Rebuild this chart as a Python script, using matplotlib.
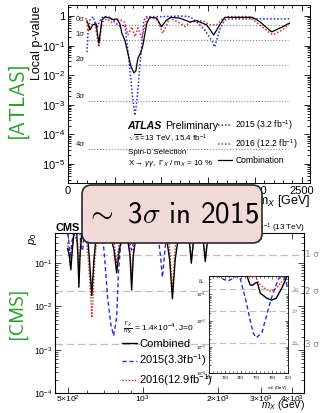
import numpy as np
import matplotlib
matplotlib.use("Agg")
import matplotlib.pyplot as plt
from matplotlib.patches import FancyBboxPatch
from matplotlib.ticker import FixedLocator, FixedFormatter, NullFormatter, LogLocator, MultipleLocator

plt.rcParams['font.family'] = ['Liberation Sans', 'DejaVu Sans']
plt.rcParams['mathtext.fontset'] = 'custom'
plt.rcParams['mathtext.rm'] = 'Liberation Sans'
plt.rcParams['mathtext.it'] = 'Liberation Sans:italic'
plt.rcParams['mathtext.bf'] = 'Liberation Sans:bold'

# ---------------- ATLAS data (local p-value vs m_X) ----------------
atlas_2015_m = [203, 214, 235, 267, 310, 342, 374, 450, 502, 555, 609, 641, 668, 690, 716, 735, 755, 790, 812, 844,
                1000, 1196, 1303, 1374, 1463, 1538, 1570, 1623, 1677, 1730, 2000, 2371]
atlas_2015_p = [0.06, 0.26, 0.73, 0.95, 0.4, 0.7, 0.95, 0.9, 0.6, 0.45, 0.5, 0.07, 0.01, 0.002, 0.00044, 0.0012, 0.006,
                0.12, 0.73, 0.95, 0.95, 1.0, 0.95, 0.65, 0.34, 0.15, 0.09, 0.34, 0.73, 0.8, 0.8, 0.8]

atlas_2016_m = [192, 214, 246, 288, 331, 363, 416, 470, 502, 555, 609, 641, 683, 716, 748, 790, 844, 908, 961, 1015,
                1089, 1196, 1250, 1303, 1388, 1463, 1517, 1591, 1655, 1709, 1940, 2050, 2190, 2296, 2371]
atlas_2016_p = [0.85, 0.3, 0.5, 0.55, 0.09, 0.6, 0.8, 0.6, 0.7, 0.75, 0.6, 0.23, 0.43, 0.2, 0.4, 0.18, 0.85, 0.9, 0.7,
                0.26, 0.85, 0.58, 0.44, 0.6, 0.7, 0.65, 0.5, 0.5, 0.8, 0.95, 0.95, 0.5, 0.23, 0.34, 0.58]

atlas_comb_m = [203, 235, 267, 300, 331, 363, 395, 449, 481, 523, 555, 577, 609, 641, 673, 705, 726, 748, 780, 801,
                844, 876, 950, 1000, 1050, 1100, 1196, 1303, 1374, 1484, 1560, 1623, 1677, 1976, 2050, 2180, 2296, 2371]
atlas_comb_p = [0.68, 0.34, 0.5, 0.55, 0.12, 0.73, 0.93, 0.85, 0.75, 0.8, 0.55, 0.26, 0.15, 0.055, 0.02, 0.012, 0.014,
                0.037, 0.06, 0.1, 0.58, 0.9, 0.85, 0.43, 0.7, 0.9, 0.85, 0.63, 0.7, 0.5, 0.23, 0.5, 0.9, 0.9, 0.65,
                0.29, 0.43, 0.58]

atlas_sigma_p = [0.5, 0.1587, 0.02275, 0.00135, 3.17e-5]
atlas_sigma_lbl = ["0σ", "1σ", "2σ", "3σ", "4σ"]
atlas_yticks = [1, 1e-1, 1e-2, 1e-3, 1e-4, 1e-5]
atlas_ytick_lbl = ["1", "$10^{-1}$", "$10^{-2}$", "$10^{-3}$", "$10^{-4}$", "$10^{-5}$"]
atlas_xticks = [0, 500, 1000, 1500, 2000, 2500]

# ---------------- CMS data (p0 vs m_X) ----------------
cms_comb_m = [500, 508, 515, 522, 530, 544, 550, 555, 561, 570, 600, 612, 625, 638, 652, 740, 768, 787, 806, 835,
              865, 890, 904, 918, 945, 1240, 1285, 1318, 1352, 1400, 1530, 1570, 1612, 1740, 1786, 1835, 4450]
cms_comb_p = [0.22, 0.15, 0.07, 0.2, 0.5, 0.5, 0.15, 0.028, 0.15, 0.5, 0.5, 0.12, 0.018, 0.12, 0.5, 0.5, 0.2, 0.06,
              0.2, 0.5, 0.5, 0.15, 0.024, 0.15, 0.5, 0.5, 0.12, 0.015, 0.12, 0.5, 0.5, 0.1, 0.5, 0.5, 0.11, 0.5, 0.5]

cms_2015_m = [500, 506, 512, 520, 528, 560, 568, 575, 582, 690, 705, 724, 745, 765, 787, 800, 824, 880, 895, 904,
              913, 925, 1150, 1180, 1202, 1224, 1250, 4450]
cms_2015_p = [0.5, 0.3, 0.13, 0.3, 0.5, 0.5, 0.2, 0.2, 0.5, 0.5, 0.12, 0.016, 0.004, 0.0021, 0.0055, 0.06, 0.5, 0.5,
              0.25, 0.2, 0.25, 0.5, 0.5, 0.15, 0.047, 0.15, 0.5, 0.5]

cms_2016_m = [500, 508, 515, 522, 530, 548, 555, 562, 575, 592, 609, 620, 625, 632, 642, 660, 760, 787, 815, 880,
              904, 930, 1270, 1318, 1365, 1530, 1570, 1612, 1740, 1786, 1835, 4450]
cms_2016_p = [0.3, 0.15, 0.08, 0.2, 0.5, 0.3, 0.06, 0.3, 0.5, 0.5, 0.08, 0.015, 0.0055, 0.015, 0.12, 0.5, 0.5, 0.1,
              0.5, 0.5, 0.05, 0.5, 0.5, 0.025, 0.5, 0.5, 0.12, 0.5, 0.5, 0.13, 0.5, 0.5]

# inset (zoom on 700-800 GeV)
ins_2015_m = [700, 711, 718, 724, 730, 735, 739, 746, 752, 756, 760, 767, 773, 779, 785, 790, 795, 800]
ins_2015_p = [0.5, 0.5, 0.38, 0.32, 0.4, 0.5, 0.45, 0.072, 0.0105, 0.0033, 0.0022, 0.0035, 0.016, 0.072, 0.23, 0.5,
              0.45, 0.17]
ins_comb_m = [700, 748, 752, 755, 758, 761, 765, 773, 779, 785, 792, 799, 800]
ins_comb_p = [0.5, 0.5, 0.23, 0.22, 0.26, 0.29, 0.11, 0.072, 0.06, 0.07, 0.17, 0.5, 0.5]
ins_2016_m = [700, 758, 765, 773, 779, 785, 792, 799, 800]
ins_2016_p = [0.5, 0.5, 0.23, 0.15, 0.13, 0.17, 0.3, 0.5, 0.5]

cms_sigma_p = [0.1587, 0.02275, 0.00135]
cms_sigma_lbl = ["1 σ", "2 σ", "3 σ"]
cms_yticks = [1e-1, 1e-2, 1e-3, 1e-4]
cms_ytick_lbl = ["$10^{-1}$", "$10^{-2}$", "$10^{-3}$", "$10^{-4}$"]
cms_xticks = [500, 1000, 2000, 3000, 4000]
cms_xtick_lbl = ["5×10$^{2}$", "$10^{3}$", "2×10$^{3}$", "3×10$^{3}$", "4×10$^{3}$"]
ins_xticks = [700, 720, 740, 760, 780, 800]

W, H = 320, 413


def fx(x):
    return x / W


def fy(y):
    return 1 - y / H


fig = plt.figure(figsize=(3.2, 4.13), dpi=100)

# ================= ATLAS panel =================
ax1 = fig.add_axes([fx(68), fy(183), fx(310) - fx(68), fy(5) - fy(183)])
ax1.set_yscale('log')
ax1.set_xlim(0, 2590)
ax1.set_ylim(2.3e-6, 2.35)
for p, lbl in zip(atlas_sigma_p, atlas_sigma_lbl):
    ax1.plot([214, 2350], [p, p], ls=(0, (1, 1.6)), color='#8a8a8a', lw=0.8)
    ax1.text(85, p * 1.12, lbl, fontsize=5.5, ha='left', va='bottom', color='#222')
ax1.plot(atlas_2015_m, atlas_2015_p, color='#2a2ae0', ls=(0, (1, 1.3)), lw=1.1, label="2015 (3.2 fb$^{-1}$)")
ax1.plot(atlas_2016_m, atlas_2016_p, color='#e02a2a', ls=(0, (1, 1.3)), lw=1.1, label="2016 (12.2 fb$^{-1}$)")
ax1.plot(atlas_comb_m, atlas_comb_p, color='black', lw=0.9, label="Combination")
ax1.yaxis.set_major_locator(FixedLocator(atlas_yticks))
ax1.yaxis.set_major_formatter(FixedFormatter(atlas_ytick_lbl))
ax1.yaxis.set_minor_locator(LogLocator(base=10, subs=np.arange(2, 10)))
ax1.yaxis.set_minor_formatter(NullFormatter())
ax1.xaxis.set_major_locator(FixedLocator(atlas_xticks))
ax1.xaxis.set_minor_locator(MultipleLocator(100))
ax1.tick_params(which='both', direction='in', top=True, right=True, labelsize=8, pad=2, width=0.6)
ax1.tick_params(which='major', length=4)
ax1.tick_params(which='minor', length=2)
for s in ax1.spines.values():
    s.set_linewidth(0.7)
leg1 = ax1.legend(loc='upper left', bbox_to_anchor=(0.62, 0.365), frameon=False, fontsize=6.2,
                  handlelength=1.6, handletextpad=0.4, labelspacing=0.62, borderaxespad=0, borderpad=0)

fig.text(fx(127), fy(126), "ATLAS", fontsize=7.6, fontweight='bold', fontstyle='italic', va='center')
fig.text(fx(165), fy(126), "Preliminary", fontsize=7.6, va='center')
fig.text(fx(128), fy(139), r"$\sqrt{s}$=13 TeV, 15.4 fb$^{-1}$", fontsize=5.8, va='center')
fig.text(fx(128), fy(153), "Spin-0 Selection", fontsize=5.8, va='center')
fig.text(fx(128), fy(164), r"X$\rightarrow\gamma\gamma$,  $\Gamma_X$ / m$_X$ = 10 %", fontsize=5.8, va='center')
fig.text(fx(37), fy(6), "Local p-value", rotation=90, fontsize=9, ha='center', va='top')
fig.text(fx(310), fy(201), "m$_X$ [GeV]", fontsize=9, ha='right', va='center')

# ================= CMS panel =================
ax2 = fig.add_axes([fx(55), fy(393), fx(304) - fx(55), fy(233) - fy(393)])
ax2.set_xscale('log')
ax2.set_yscale('log')
ax2.set_xlim(445, 4450)
ax2.set_ylim(1e-4, 0.5)
for p in cms_sigma_p:
    ax2.axhline(p, color='#c0c0c0', ls=(0, (6, 3)), lw=0.9, zorder=1)
for p, lbl in zip(cms_sigma_p, cms_sigma_lbl):
    ax2.text(1.004, p, lbl, transform=ax2.get_yaxis_transform(), fontsize=6.3, color='#8c8c8c',
             va='center', ha='left', family='DejaVu Sans')
ax2.plot(cms_comb_m, cms_comb_p, color='black', lw=1.0, label="Combined", zorder=4)
ax2.plot(cms_2015_m, cms_2015_p, color='#2a2ae6', ls=(0, (3, 2)), lw=1.0, label="2015(3.3fb$^{-1}$)", zorder=3)
ax2.plot(cms_2016_m, cms_2016_p, color='#e02020', ls=(0, (1, 1.2)), lw=1.0, label="2016(12.9fb$^{-1}$)", zorder=3)
ax2.yaxis.set_major_locator(FixedLocator(cms_yticks))
ax2.yaxis.set_major_formatter(FixedFormatter(cms_ytick_lbl))
ax2.yaxis.set_minor_locator(LogLocator(base=10, subs=np.arange(2, 10)))
ax2.yaxis.set_minor_formatter(NullFormatter())
ax2.xaxis.set_major_locator(FixedLocator(cms_xticks))
ax2.xaxis.set_major_formatter(FixedFormatter(cms_xtick_lbl))
ax2.xaxis.set_minor_locator(LogLocator(base=10, subs=np.arange(1, 10)))
ax2.xaxis.set_minor_formatter(NullFormatter())
ax2.tick_params(which='both', direction='in', top=True, right=True, labelsize=6.3, pad=2, width=0.5)
ax2.tick_params(axis='x', pad=0.8, labelsize=6)
ax2.tick_params(which='major', length=4)
ax2.tick_params(which='minor', length=2)
for s in ax2.spines.values():
    s.set_linewidth(0.8)
leg2 = ax2.legend(loc='upper left', bbox_to_anchor=(0.27, 0.34), frameon=False, fontsize=8,
                  handlelength=1.3, handletextpad=0.2, labelspacing=0.36, borderaxespad=0, borderpad=0)
fig.text(fx(123), fy(328), r"$\frac{\Gamma_X}{m_X}$ = 1.4×10$^{-4}$, J=0", fontsize=6, va='center')
fig.text(fx(55), fy(228), "CMS", fontsize=7.8, fontweight='bold', ha='left', va='center')
fig.text(fx(305), fy(228), "3.3 fb$^{-1}$ + 12.9 fb$^{-1}$ (13 TeV)", fontsize=5.8, ha='right', va='center')
fig.text(fx(33), fy(233), "$p_0$", rotation=90, fontsize=8, ha='center', va='top')
fig.text(fx(305), fy(412.5), "$m_X$ (GeV)", fontsize=7.2, ha='right', va='bottom')

# inset
ax3 = fig.add_axes([fx(209), fy(373), fx(288) - fx(209), fy(276) - fy(373)])
ax3.set_yscale('log')
ax3.set_xlim(700, 800)
ax3.set_ylim(1e-4, 0.5)
for p, lbl in zip(cms_sigma_p, cms_sigma_lbl):
    ax3.axhline(p, color='#c0c0c0', ls=(0, (6, 3)), lw=0.8, zorder=1)
    ax3.text(1.05, p, lbl.replace(" ", ""), transform=ax3.get_yaxis_transform(), fontsize=3.3,
             color='#8c8c8c', va='center', ha='left', family='DejaVu Sans')
ax3.plot(ins_comb_m, ins_comb_p, color='black', lw=1.0, zorder=4)
ax3.plot(ins_2015_m, ins_2015_p, color='#2a2ae6', ls=(0, (3, 2)), lw=1.0, zorder=3)
ax3.plot(ins_2016_m, ins_2016_p, color='#e02020', ls=(0, (1, 1.2)), lw=1.0, zorder=3)
ax3.yaxis.set_major_locator(FixedLocator(cms_yticks))
ax3.yaxis.set_major_formatter(FixedFormatter(cms_ytick_lbl))
ax3.yaxis.set_minor_locator(LogLocator(base=10, subs=np.arange(2, 10)))
ax3.yaxis.set_minor_formatter(NullFormatter())
ax3.xaxis.set_major_locator(FixedLocator(ins_xticks))
ax3.xaxis.set_minor_locator(MultipleLocator(5))
ax3.tick_params(which='both', direction='in', top=True, right=True, labelsize=3.0, pad=2.5, width=0.4)
ax3.tick_params(axis='x', pad=2.5)
ax3.tick_params(which='major', length=2.5)
ax3.tick_params(which='minor', length=1.2)
for s in ax3.spines.values():
    s.set_linewidth(0.6)
fig.text(fx(202), fy(280), "$p_0$", rotation=90, fontsize=3.3, ha='center', va='center')
fig.text(fx(287), fy(388), "$m_X$ (GeV)", fontsize=3.2, ha='right', va='center')

# ================= side labels and highlight box =================
fig.text(fx(17), fy(100), "[ATLAS]", rotation=90, fontsize=15, color='#2f9f2f', family='cmss10',
         ha='center', va='center')
fig.text(fx(17), fy(313), "[CMS]", rotation=90, fontsize=14, color='#2f9f2f', family='cmss10',
         ha='center', va='center')

box = FancyBboxPatch((fx(82), fy(243)), fx(262) - fx(82), fy(185) - fy(243),
                     boxstyle="round,pad=0,rounding_size=0.03", mutation_aspect=W / H,
                     transform=fig.transFigure, facecolor='#f2dad8', edgecolor='#2a2a2a', lw=1.2, zorder=10)
fig.add_artist(box)
fig.text(fx(172), fy(215), r"$\sim$ 3$\sigma$ in 2015", fontsize=21, family='cmss10', math_fontfamily='cm',
         ha='center', va='center', zorder=11)

fig.savefig("out.png", dpi=100)
